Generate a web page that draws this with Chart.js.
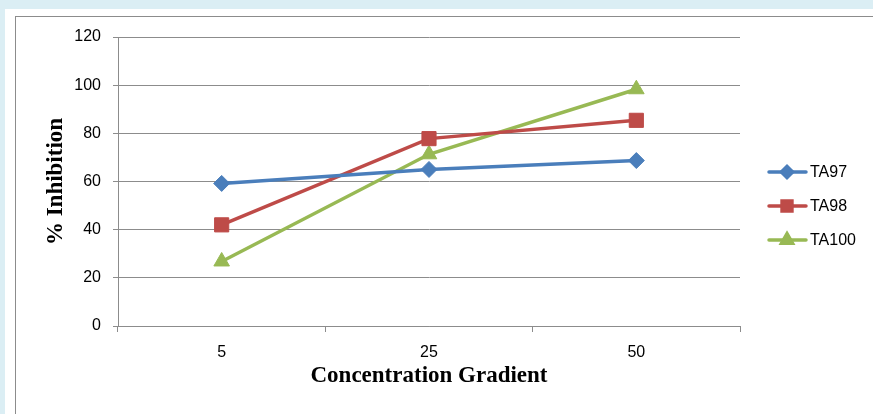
<!DOCTYPE html>
<html>
<head>
<meta charset="utf-8">
<script src="https://cdn.jsdelivr.net/npm/chart.js@4"></script>
<style>
  html, body { margin: 0; padding: 0; }
  body { width: 873px; height: 414px; background: #dbeef4; position: relative; overflow: hidden; }
  #paper { position: absolute; left: 5px; top: 9px; right: 0; bottom: 0; background: #fff; }
  #frame { position: absolute; left: 15px; top: 16px; width: 900px; height: 500px; border: 1px solid #8c8c8c; box-sizing: border-box; }
  #wrap { position: absolute; left: 0; top: 0; width: 873px; height: 414px; }
</style>
</head>
<body>
<div id="paper"></div>
<div id="frame"></div>
<div id="wrap"><canvas id="chart"></canvas></div>
<script>
const categories = ['5', '25', '50'];
const ta97 = [59.2, 65, 68.7];
const ta98 = [42, 77.8, 85.4];
const ta100 = [26.8, 71.3, 98.3];
const yTicks = [0, 20, 40, 60, 80, 100, 120];

const seriesNames = ['TA97', 'TA98', 'TA100'];
const colors = ['#4a7ebb', '#be4b48', '#98b954'];
const markers = ['rectRot', 'rect', 'triangle'];
const markerSizes = [8, 10, 9];

// legend drawn by hand: line with marker in the middle, like the office style
const sideLegend = {
    id: 'sideLegend',
    afterDraw(chart) {
        const ctx = chart.ctx;
        const rows = [172, 206, 240];
        chart.data.datasets.forEach((ds, i) => {
            const y = rows[i];
            ctx.save();
            ctx.strokeStyle = ds.borderColor;
            ctx.lineWidth = 3.5;
            ctx.lineCap = 'round';
            ctx.beginPath();
            ctx.moveTo(769, y);
            ctx.lineTo(806, y);
            ctx.stroke();
            ctx.fillStyle = ds.borderColor;
            Chart.helpers.drawPoint(ctx, {
                pointStyle: ds.pointStyle,
                radius: ds.pointRadius * 0.7,
                borderWidth: 1,
                rotation: 0
            }, 787, y);
            ctx.fill();
            ctx.fillStyle = '#000';
            ctx.font = '16px "Liberation Sans", Arial, sans-serif';
            ctx.textBaseline = 'middle';
            ctx.fillText(ds.label, 810, y + 1);
            ctx.restore();
        });
    }
};

new Chart(document.getElementById('chart'), {
    type: 'line',
    data: {
        labels: categories,
        datasets: [ta97, ta98, ta100].map((vals, i) => ({
            label: seriesNames[i],
            data: vals,
            borderColor: colors[i],
            backgroundColor: colors[i],
            borderWidth: 3.5,
            pointStyle: markers[i],
            pointRadius: markerSizes[i],
            pointBorderWidth: 1,
            pointBorderColor: colors[i],
            tension: 0
        }))
    },
    options: {
        responsive: true,
        maintainAspectRatio: false,
        animation: false,
        layout: { padding: { left: 42, right: 133, top: 37, bottom: 24 } },
        plugins: {
            legend: { display: false },
            tooltip: { enabled: false }
        },
        scales: {
            x: {
                type: 'category',
                offset: true,
                afterFit: (s) => { s.height = 414 - 24 - 326; },
                grid: {
                    offset: true,
                    drawOnChartArea: false,
                    drawTicks: true,
                    tickLength: 6,
                    color: '#8c8c8c'
                },
                border: { color: '#8c8c8c', width: 1 },
                ticks: {
                    color: '#000',
                    padding: 11,
                    font: { family: '"Liberation Sans", Arial, sans-serif', size: 16 }
                },
                title: {
                    display: true,
                    text: 'Concentration Gradient',
                    color: '#000',
                    padding: 0,
                    font: { family: '"Liberation Serif", "Times New Roman", serif', size: 23, weight: 'bold' }
                }
            },
            y: {
                min: 0,
                max: 120,
                afterFit: (s) => { s.width = 118 - 42; },
                afterBuildTicks: (s) => { s.ticks = yTicks.map(v => ({ value: v })); },
                grid: {
                    color: '#8c8c8c',
                    drawTicks: true,
                    tickLength: 5
                },
                border: { color: '#8c8c8c', width: 1 },
                ticks: {
                    color: '#000',
                    padding: 12,
                    font: { family: '"Liberation Sans", Arial, sans-serif', size: 16 }
                },
                title: {
                    display: true,
                    text: '% Inhibition',
                    color: '#000',
                    padding: 0,
                    font: { family: '"Liberation Serif", "Times New Roman", serif', size: 23, weight: 'bold' }
                }
            }
        }
    },
    plugins: [sideLegend]
});
</script>
</body>
</html>
